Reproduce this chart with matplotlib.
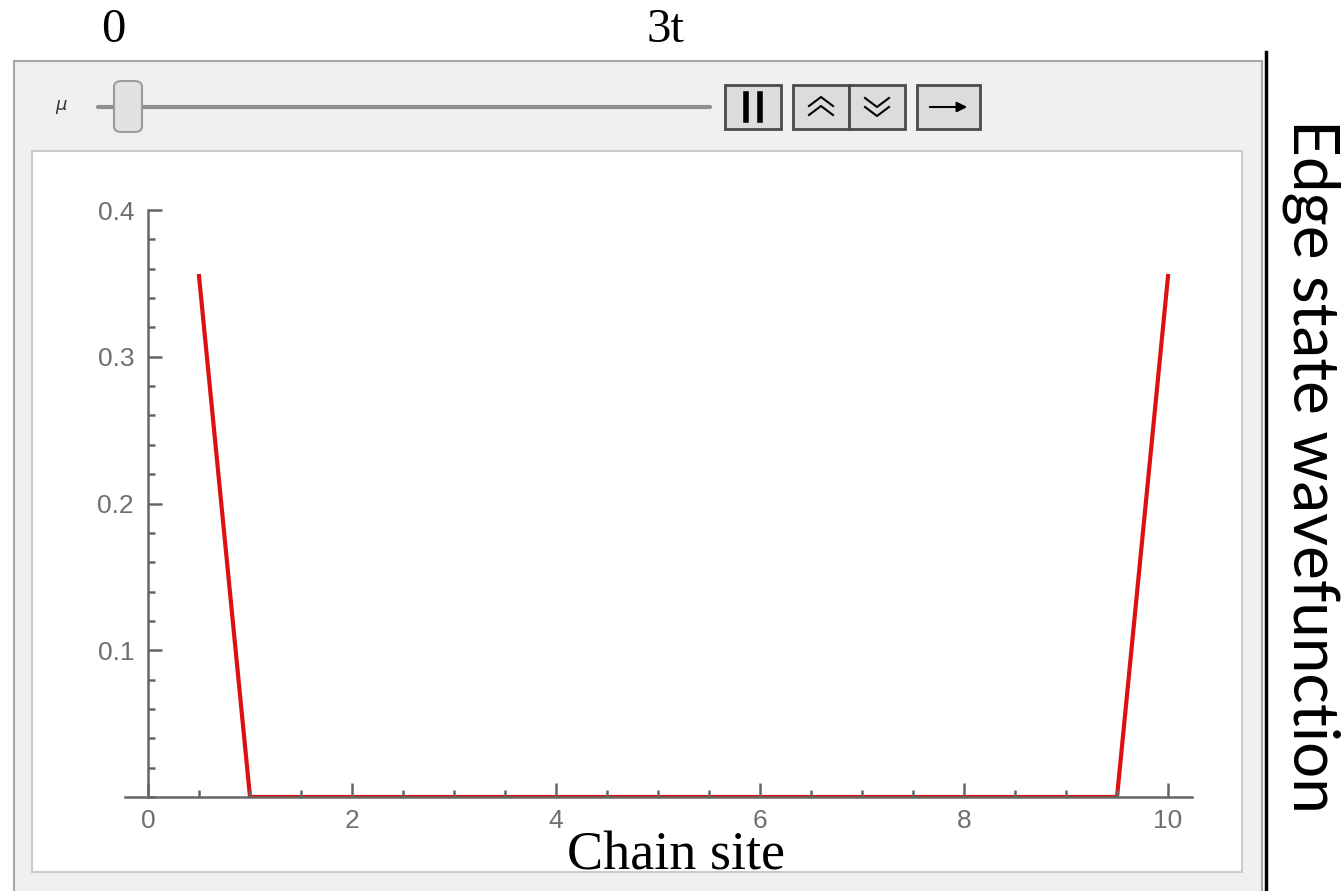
import matplotlib.pyplot as plt
from matplotlib.patches import Rectangle, FancyBboxPatch, FancyArrowPatch
from matplotlib.lines import Line2D
from matplotlib.ticker import MultipleLocator

# edge state amplitude along the chain
site = [0.5, 1.0, 1.5, 2.0, 2.5, 3.0, 3.5, 4.0, 4.5, 5.0,
        5.5, 6.0, 6.5, 7.0, 7.5, 8.0, 8.5, 9.0, 9.5, 10.0]
amplitude = [0.355, 0, 0, 0, 0, 0, 0, 0, 0, 0,
             0, 0, 0, 0, 0, 0, 0, 0, 0, 0.355]
x_ticks = [0, 2, 4, 6, 8, 10]
y_ticks = [0.1, 0.2, 0.3, 0.4]
slider_ends = ['0', '3t']

W, H = 1342, 891
fig = plt.figure(figsize=(W / 100, H / 100), dpi=100)
fig.patch.set_facecolor('white')


def fx(px):
    return px / W


def fy(py):
    return 1 - py / H


def box(x0, y0, x1, y1, z=1, **kw):
    fig.patches.append(Rectangle((fx(x0), fy(y1)), fx(x1) - fx(x0), fy(y0) - fy(y1),
                                 transform=fig.transFigure, zorder=z, **kw))


def seg(xs, ys, **kw):
    fig.add_artist(Line2D([fx(v) for v in xs], [fy(v) for v in ys],
                          transform=fig.transFigure, zorder=3, **kw))


# manipulate panel
box(14, 61, 1262, 900, fc='#f0f0f0', ec='#a8a8a8', lw=1.5)
box(32, 151, 1242, 872, z=1.5, fc='white', ec='#cccccc', lw=1.5)
seg([1266, 1266], [52, 891], color='black', lw=2.5)

# slider
fig.text(fx(61), fy(107), r'$\mu$', fontsize=13, color='#333333', ha='center', va='center')
seg([98, 710], [107, 107], color='#8e8e8e', lw=3, solid_capstyle='round')
knob = FancyBboxPatch((fx(114), fy(132)), fx(142) - fx(114), fy(81) - fy(132),
                      boxstyle='round,pad=0,rounding_size=0.006',
                      transform=fig.transFigure, fc='#e2e2e2', ec='#9a9a9a', lw=1.5, zorder=4)
fig.patches.append(knob)
seg([117, 139], [88, 88], color='#bdbdbd', lw=2)
seg([117, 139], [126, 126], color='#9c9c9c', lw=2.5)

# buttons
for x0, x1 in [(725, 781), (793, 849), (849, 905), (917, 980)]:
    box(x0, 85, x1, 129, z=2, fc='#dcdcdc', ec='#4a4a4a', lw=2)
seg([746, 746], [94, 120], color='black', lw=4)
seg([760, 760], [94, 120], color='black', lw=4)
seg([809, 821, 833], [106, 97, 106], color='black', lw=1.5)
seg([809, 821, 833], [115, 106, 115], color='black', lw=1.5)
seg([865, 877, 889], [98, 107, 98], color='black', lw=1.5)
seg([865, 877, 889], [107, 116, 107], color='black', lw=1.5)
fig.add_artist(FancyArrowPatch((fx(927), fy(107)), (fx(970), fy(107)), transform=fig.transFigure,
                               arrowstyle='-|>,head_length=6,head_width=3', color='black',
                               lw=1.5, zorder=3))

# plot
ax = fig.add_axes([fx(125), fy(797), fx(1192) - fx(125), fy(210) - fy(797)])
ax.set_zorder(5)
ax.set_facecolor('none')
ax.plot(site, amplitude, color='#dd1111', lw=3, zorder=1)
ax.set_xlim(-0.2255, 10.235)
ax.set_ylim(0, 0.4)
for s in ['top', 'right']:
    ax.spines[s].set_visible(False)
ax.spines['left'].set_position(('data', 0))
for s in ['left', 'bottom']:
    ax.spines[s].set_color('#666666')
    ax.spines[s].set_linewidth(1.8)
    ax.spines[s].set_zorder(3)
ax.set_xticks(x_ticks)
ax.set_yticks(y_ticks)
ax.set_yticklabels([f'{v:.1f}' for v in y_ticks])
ax.xaxis.set_minor_locator(MultipleLocator(0.5))
ax.yaxis.set_minor_locator(MultipleLocator(0.02))
ax.tick_params(which='both', direction='in', color='#666666', width=1.8,
               labelcolor='#6f6f72', labelsize=19)
ax.tick_params(which='major', length=10)
ax.tick_params(which='minor', length=5)
ax.tick_params(axis='x', pad=9)
ax.tick_params(axis='y', pad=10)
for lab in ax.get_xticklabels() + ax.get_yticklabels():
    lab.set_fontfamily('Liberation Sans')

# overlay text
fig.text(fx(113), fy(30), slider_ends[0], fontsize=35, family='Liberation Serif',
         ha='center', va='center', zorder=6)
fig.text(fx(665), fy(30), slider_ends[1], fontsize=35, family='Liberation Serif',
         ha='center', va='center', zorder=6)
fig.text(fx(676), fy(870), 'Chain site', fontsize=39, family='Liberation Serif',
         ha='center', va='baseline', zorder=6)
fig.text(fx(1311), fy(466), 'Edge state wavefunction', fontsize=46, family='Lato',
         ha='center', va='center', rotation=270, zorder=6)

fig.savefig('out.png', dpi=100)
